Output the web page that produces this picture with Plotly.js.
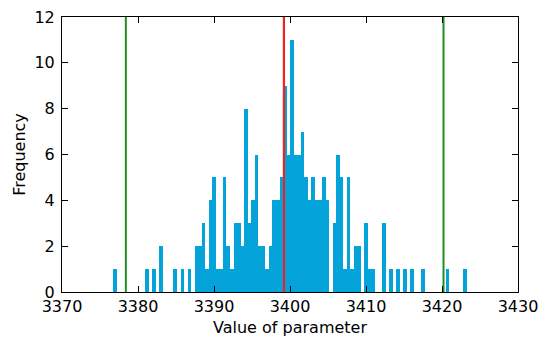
<!DOCTYPE html>
<html>
<head>
<meta charset="utf-8">
<script src="https://cdn.plot.ly/plotly-3.0.1.min.js"></script>
<style>html,body{margin:0;padding:0;background:#fff;}#chart{width:546px;height:337px;}</style>
</head>
<body>
<div id="chart"></div>
<script>
// Histogram: 100 bins starting at binStart, each binWidth wide
var binStart = 3376.75;
var binWidth = 0.4654;
var counts = [
  1,0,0,0,0,0,0,0,0,1,
  0,1,0,2,0,0,0,1,0,1,
  0,1,0,2,2,3,1,4,5,1,
  1,5,2,1,3,3,2,8,3,4,
  6,2,2,1,2,4,4,5,9,6,
  11,6,6,7,5,4,5,4,4,5,
  4,0,3,6,5,1,5,1,2,2,
  0,3,1,1,0,0,3,0,1,0,
  1,0,1,0,1,0,0,1,0,0,
  0,0,0,0,1,0,0,0,0,1
];
var meanValue = 3399.2;
var intervalBounds = [3378.4, 3420.2];
var xTicks = [3370, 3380, 3390, 3400, 3410, 3420, 3430];
var yTicks = [0, 2, 4, 6, 8, 10, 12];

var centers = counts.map(function(c, i){ return binStart + (i + 0.5) * binWidth; });

var traces = [{
  type: 'bar', x: centers, y: counts, width: binWidth,
  marker: {color: '#04a3d9', line: {width: 0}}, hoverinfo: 'skip'
}];
intervalBounds.forEach(function(v){
  traces.push({type: 'scatter', mode: 'lines', x: [v, v], y: [0, 12],
    line: {color: '#1f8f1f', width: 2}, hoverinfo: 'skip'});
});
traces.push({type: 'scatter', mode: 'lines', x: [meanValue, meanValue], y: [0, 12],
  line: {color: '#ee2222', width: 2.2}, hoverinfo: 'skip'});

var font = {family: 'DejaVu Sans', size: 16, color: '#000'};
var layout = {
  width: 546, height: 337,
  margin: {l: 62, r: 28, t: 17, b: 45},
  paper_bgcolor: '#fff', plot_bgcolor: '#fff',
  showlegend: false, bargap: 0,
  font: font,
  xaxis: {
    range: [3370, 3430], tickvals: xTicks, ticktext: xTicks.map(String),
    ticks: 'inside', ticklen: 6, tickwidth: 1, tickcolor: '#000',
    showline: true, linecolor: '#000', linewidth: 1, mirror: 'ticks',
    showgrid: false, zeroline: false, tickfont: font, ticklabelstandoff: 0,
    title: {text: 'Value of parameter', font: font, standoff: 6}
  },
  yaxis: {
    range: [0, 12], tickvals: yTicks, ticktext: yTicks.map(String),
    ticks: 'inside', ticklen: 6, tickwidth: 1, tickcolor: '#000',
    showline: true, linecolor: '#000', linewidth: 1, mirror: 'ticks',
    showgrid: false, zeroline: false, tickfont: font, ticklabelstandoff: 3,
    title: {text: 'Frequency', font: font, standoff: 4}
  }
};
Plotly.newPlot('chart', traces, layout, {displayModeBar: false, staticPlot: true});
</script>
</body>
</html>
